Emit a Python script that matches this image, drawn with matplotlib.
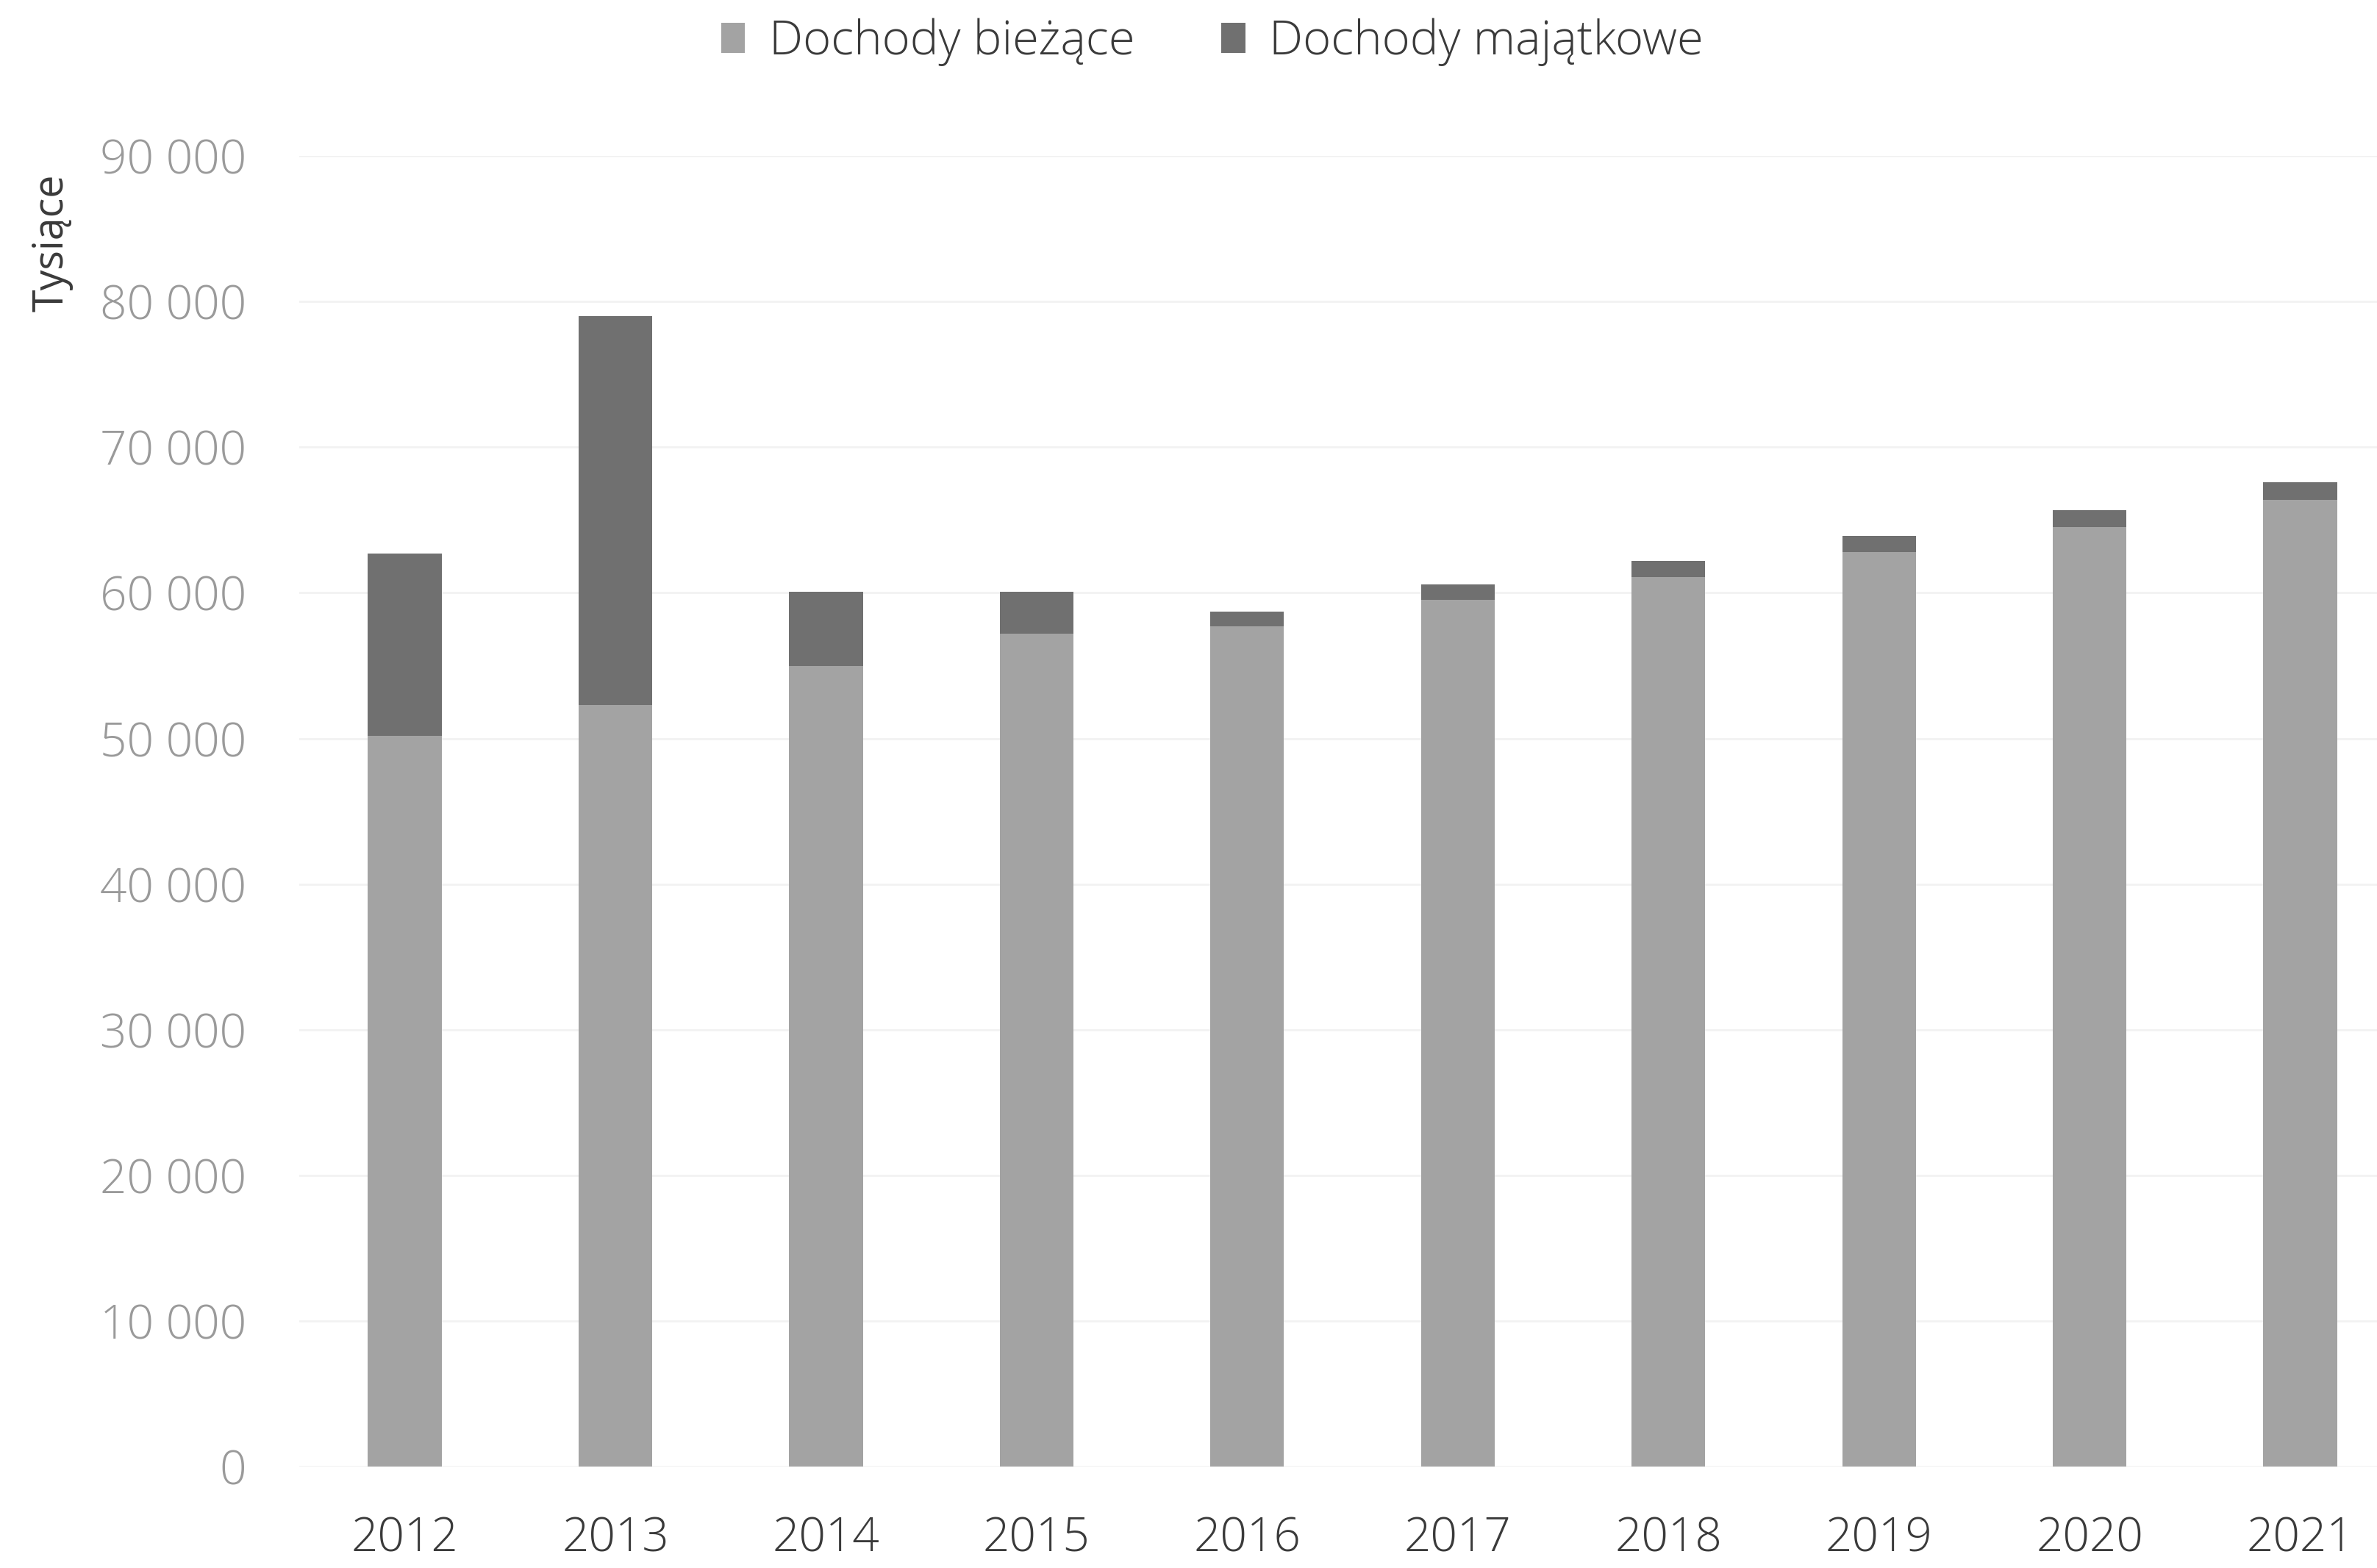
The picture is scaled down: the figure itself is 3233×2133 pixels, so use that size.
import matplotlib
matplotlib.use("Agg")
import matplotlib.pyplot as plt
from matplotlib.ticker import FuncFormatter
from matplotlib.patches import Patch

years = ["2012", "2013", "2014", "2015", "2016", "2017", "2018", "2019", "2020", "2021"]
dochody_biezace = [50200, 52300, 55000, 57200, 57700, 59500, 61100, 62800, 64500, 66400]
dochody_majatkowe = [12500, 26700, 5100, 2900, 1000, 1100, 1100, 1100, 1200, 1200]
yticks = [0, 10000, 20000, 30000, 40000, 50000, 60000, 70000, 80000, 90000]

plt.rcParams['font.family'] = ['Open Sans', 'DejaVu Sans']

fig = plt.figure(figsize=(32.33, 21.33), dpi=100)
ax = fig.add_axes([0.126, 0.0647, 0.886, 0.8358])

x = list(range(len(years)))
c1 = '#a3a3a3'
c2 = '#707070'
ax.bar(x, dochody_biezace, width=0.35, color=c1, zorder=2)
ax.bar(x, dochody_majatkowe, width=0.35, bottom=dochody_biezace, color=c2, zorder=2)

ax.set_xlim(-0.5, len(years) - 0.5)
ax.set_ylim(0, 90000)
ax.set_yticks(yticks)
ax.yaxis.set_major_formatter(FuncFormatter(lambda v, p: f"{int(v):,}".replace(",", " ")))
ax.set_xticks(x)
ax.set_xticklabels(years)

ax.grid(axis='y', color='#f2f2f2', linewidth=2, zorder=0)
for s in ax.spines.values():
    s.set_visible(False)
ax.axhline(0, color='#e8e8e8', linewidth=2, zorder=1)
ax.tick_params(axis='y', length=0, pad=52, labelsize=46, labelcolor='#9a9a9a')
ax.tick_params(axis='x', length=0, pad=48, labelsize=46, labelcolor='#3a3a3a')
for lbl in ax.get_yticklabels() + ax.get_xticklabels():
    lbl.set_fontweight('light')

fig.text(0.022, 0.845, "Tysiące", rotation=90, ha='center', va='center',
         fontsize=40, color='#3a3a3a')

handles = [Patch(facecolor=c1, label='Dochody bieżące'),
           Patch(facecolor=c2, label='Dochody majątkowe')]
leg = fig.legend(handles=handles, loc='center', bbox_to_anchor=(0.51, 0.973), ncol=2,
                 frameon=False, fontsize=47, labelcolor='#3a3a3a', handlelength=0.5,
                 handleheight=0.6, handletextpad=0.5, columnspacing=1.8)
for t in leg.get_texts():
    t.set_fontweight('light')

fig.savefig("out.png", dpi=100, facecolor='white')
